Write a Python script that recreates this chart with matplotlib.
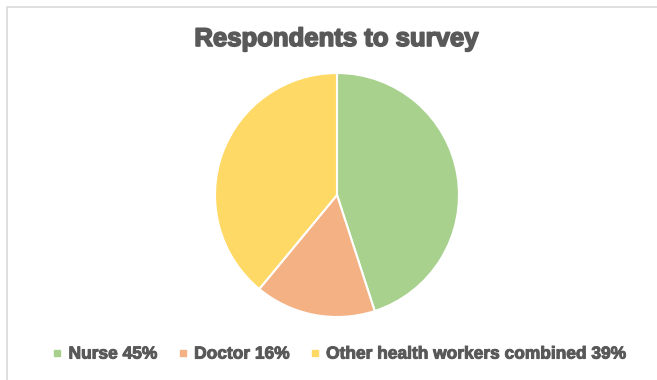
import matplotlib
matplotlib.use("Agg")
import matplotlib.pyplot as plt
import matplotlib.patheffects as pe
from matplotlib.lines import Line2D
from matplotlib.patches import Rectangle

labels = ["Nurse 45%", "Doctor 16%", "Other health workers combined 39%"]
values = [45, 16, 39]
colors = ["#A9D18E", "#F4B183", "#FFD966"]
title = "Respondents to survey"

plt.rcParams['font.family'] = ['Liberation Sans', 'DejaVu Sans']

fig = plt.figure(figsize=(6.57, 3.8), dpi=100)
fig.patch.set_facecolor("white")

# chart area border
fig.patches.append(Rectangle((7/657, -0.05), 1.0, (380-6.5)/380 + 0.05,
                             transform=fig.transFigure, fill=False,
                             edgecolor="#D9D9D9", linewidth=1.2))

ax = fig.add_axes([215/657, (380-317)/380, 244/657, 244/380])
ax.pie(values, colors=colors, startangle=90, counterclock=False,
       wedgeprops=dict(edgecolor="white", linewidth=1.5))
ax.set_xlim(-1, 1)
ax.set_ylim(-1, 1)
ax.set_aspect("equal")
ax.axis("off")

heavy = [pe.withStroke(linewidth=1.2, foreground="#595959")]
fig.text(337/657, 1 - 39/380, title, ha="center", va="center",
         fontsize=18.5, fontweight="bold", color="#595959", path_effects=heavy)

handles = [Line2D([0], [0], marker="s", linestyle="none", markersize=4.5,
                  markerfacecolor=c, markeredgecolor=c) for c in colors]
leg = fig.legend(handles, labels, loc="center", ncol=3,
                 bbox_to_anchor=(340/657, 1 - 354/380), frameon=False,
                 handlelength=0.5, handletextpad=0.4, columnspacing=1.2,
                 prop=dict(size=12.5, weight="bold"))
for t in leg.get_texts():
    t.set_color("#595959")
    t.set_path_effects([pe.withStroke(linewidth=0.7, foreground="#595959")])

fig.savefig("out.png", dpi=100, facecolor="white")
